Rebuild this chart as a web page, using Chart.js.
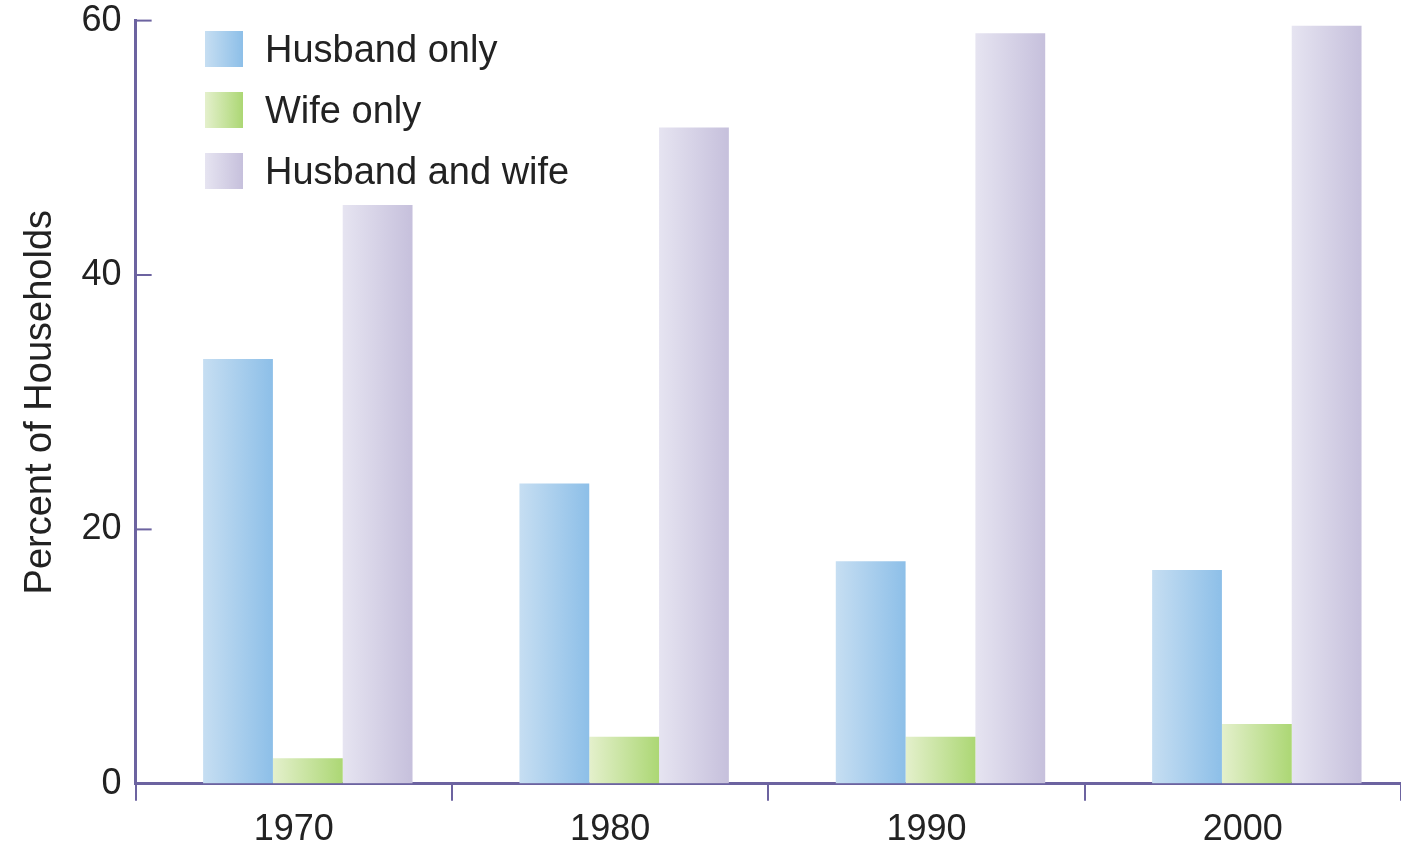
<!DOCTYPE html>
<html>
<head>
<meta charset="utf-8">
<script src="https://cdn.jsdelivr.net/npm/chart.js@4/dist/chart.umd.min.js"></script>
<style>
  html, body { margin: 0; padding: 0; background: #fff; overflow: hidden; }
  #wrap { position: relative; width: 1401px; height: 845px; overflow: hidden; }
  #myChart { position: absolute; left: 0; top: -15px; }
  #legend { position: absolute; left: 205px; top: 31px; font-family: "Liberation Sans", Arial, sans-serif; font-size: 38px; color: #222; }
  .row { display: flex; align-items: center; height: 36px; margin-bottom: 25px; }
  .box { width: 38px; height: 36px; margin-right: 22px; }
</style>
</head>
<body>
<div id="wrap">
  <canvas id="myChart" width="1401" height="875"></canvas>
  <div id="legend"></div>
</div>
<script>
  var years = ["1970", "1980", "1990", "2000"];
  var husbandOnly = [33.4, 23.6, 17.5, 16.8];
  var wifeOnly = [2.0, 3.7, 3.7, 4.7];
  var husbandAndWife = [45.5, 51.6, 59.0, 59.6];
  var yTicks = [0, 20, 40, 60];

  var axisColor = "#6c63a0";
  var textColor = "#222";
  var font = "'Liberation Sans', Arial, sans-serif";

  // left -> right colour of each bar
  var series = [
    { label: "Husband only", data: husbandOnly, from: "#c6def2", to: "#8dbfe8" },
    { label: "Wife only", data: wifeOnly, from: "#e4f0cc", to: "#acd774" },
    { label: "Husband and wife", data: husbandAndWife, from: "#e6e4f1", to: "#c6c0dc" },
  ];

  // legend
  var legend = document.getElementById("legend");
  for (var s of series) {
    var row = document.createElement("div");
    row.className = "row";
    var box = document.createElement("div");
    box.className = "box";
    box.style.background = "linear-gradient(to right, " + s.from + ", " + s.to + ")";
    var txt = document.createElement("span");
    txt.textContent = s.label;
    row.appendChild(box);
    row.appendChild(txt);
    legend.appendChild(row);
  }

  // horizontal gradient in every bar + bars sit a bit right of the tick labels
  var barStyle = {
    id: "barStyle",
    beforeDatasetsDraw(chart) {
      var ctx = chart.ctx;
      chart.data.datasets.forEach((ds, i) => {
        var meta = chart.getDatasetMeta(i);
        var s = series[i];
        meta.data.forEach((el) => {
          var g = ctx.createLinearGradient(el.x - el.width / 2, 0, el.x + el.width / 2, 0);
          g.addColorStop(0, s.from);
          g.addColorStop(1, s.to);
          el.options = Object.assign({}, el.options, { backgroundColor: g });
        });
      });
      ctx.save();
      ctx.translate(14, 0);
    },
    afterDatasetsDraw(chart) {
      chart.ctx.restore();
    },
  };

  // short inward ticks on the y axis
  var yInTicks = {
    id: "yInTicks",
    afterDraw(chart) {
      var ctx = chart.ctx;
      var y = chart.scales.y;
      var left = chart.chartArea.left;
      ctx.save();
      ctx.strokeStyle = axisColor;
      ctx.lineWidth = 2;
      for (var v of yTicks) {
        if (v === 0) continue;
        var py = y.getPixelForValue(v);
        ctx.beginPath();
        ctx.moveTo(left, py);
        ctx.lineTo(left + 16, py);
        ctx.stroke();
      }
      ctx.restore();
    },
  };

  new Chart(document.getElementById("myChart").getContext("2d"), {
    type: "bar",
    data: {
      labels: years,
      datasets: series.map((s) => ({
        label: s.label,
        data: s.data,
        backgroundColor: s.to,
        borderWidth: 0,
      })),
    },
    options: {
      responsive: false,
      animation: false,
      categoryPercentage: 0.662,
      barPercentage: 1,
      layout: { padding: { left: 18, top: 0, right: 0, bottom: 0 } },
      plugins: {
        legend: { display: false },
        tooltip: { enabled: false },
      },
      scales: {
        x: {
          offset: true,
          grid: {
            offset: true,
            drawOnChartArea: false,
            drawTicks: true,
            tickLength: 17,
            color: axisColor,
            lineWidth: 2,
          },
          border: { color: axisColor, width: 3 },
          ticks: { color: textColor, font: { family: font, size: 36 }, padding: 8 },
        },
        y: {
          min: 0,
          max: 60,
          afterBuildTicks: (axis) => {
            axis.ticks = yTicks.map((v) => ({ value: v }));
          },
          grid: { display: true, drawOnChartArea: false, drawTicks: false },
          border: { color: axisColor, width: 3 },
          ticks: { color: textColor, font: { family: font, size: 36 }, padding: 14 },
          title: {
            display: true,
            text: "Percent of Households",
            color: textColor,
            font: { family: font, size: 38 },
            padding: { top: 0, bottom: 4 },
          },
        },
      },
    },
    plugins: [barStyle, yInTicks],
  });
</script>
</body>
</html>
